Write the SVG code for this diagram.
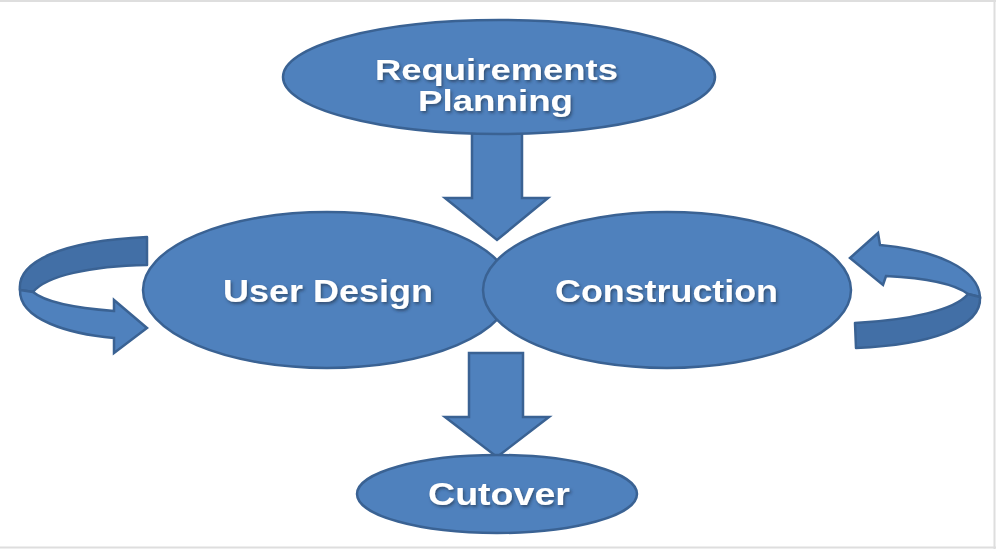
<svg xmlns="http://www.w3.org/2000/svg" width="996" height="549" viewBox="0 0 996 549">
<defs>
<filter id="ts" x="-10%" y="-30%" width="120%" height="160%">
<feDropShadow dx="1.5" dy="2" stdDeviation="1.5" flood-color="#1a2a40" flood-opacity="0.6"/>
</filter>
<style>
.node{fill:#4f81bd;stroke:#3a6293;stroke-width:2.5}
.dark{fill:#426fa6;stroke:#3a6293;stroke-width:2.5;stroke-linejoin:round}
.arrow{fill:#4f81bd;stroke:#3a6293;stroke-width:2.5;stroke-linejoin:miter}
.lbl{font-family:"Liberation Sans",Arial,sans-serif;font-weight:bold;fill:#ffffff;text-anchor:middle;filter:url(#ts)}
.frame{stroke:#dedede;stroke-width:2;fill:none}
</style>
</defs>
<rect width="996" height="549" fill="#ffffff"/>
<g id="frame">
<line class="frame" x1="0" y1="1" x2="996" y2="1"/>
<line class="frame" x1="994.5" y1="0" x2="994.5" y2="549"/>
<line class="frame" x1="0" y1="547.5" x2="996" y2="547.5"/>
</g>
<g id="connectors">
<path class="arrow" d="M472,128 L522,128 L522,198 L548,198 L497,240 L445,198 L472,198 Z"/>
<path class="arrow" d="M469,353 L523,353 L523,417 L549,417 L497,457 L445,417 L469,417 Z"/>
<g id="loop-left">
<path class="dark" d="M147,237 L147,265 C90,266 46,276 33,292 L20,290 C17,262 60,241 147,237 Z"/>
<path class="arrow" d="M20,290 C19,320 70,334 114,338 L114,353 L147,328 L114,300 L114,311 C75,308 45,302 33,292 Z"/>
</g>
<g id="loop-right">
<path class="arrow" d="M880,245 L878,233 L850,258 L883,285 L886,276 C925,278 955,284 968,294 L980,297 C978,268 935,250 880,245 Z"/>
<path class="dark" d="M968,294 L980,297 C982,327 930,345 856,348 L855,323 C910,320 955,310 968,294 Z"/>
</g>
</g>
<g id="requirements-planning">
<ellipse class="node" cx="499" cy="77" rx="216" ry="57"/>
<text class="lbl" x="496.5" y="80" font-size="29" textLength="243" lengthAdjust="spacingAndGlyphs">Requirements</text>
<text class="lbl" x="495.5" y="111" font-size="29" textLength="155" lengthAdjust="spacingAndGlyphs">Planning</text>
</g>
<g id="user-design">
<ellipse class="node" cx="327" cy="290" rx="184" ry="78"/>
<text class="lbl" x="328" y="302" font-size="31" textLength="210" lengthAdjust="spacingAndGlyphs">User Design</text>
</g>
<g id="construction">
<ellipse class="node" cx="667" cy="290" rx="184" ry="78"/>
<text class="lbl" x="666.5" y="302" font-size="31" textLength="223" lengthAdjust="spacingAndGlyphs">Construction</text>
</g>
<g id="cutover">
<ellipse class="node" cx="497" cy="494" rx="140" ry="39"/>
<text class="lbl" x="499" y="505" font-size="31" textLength="142" lengthAdjust="spacingAndGlyphs">Cutover</text>
</g>
</svg>
